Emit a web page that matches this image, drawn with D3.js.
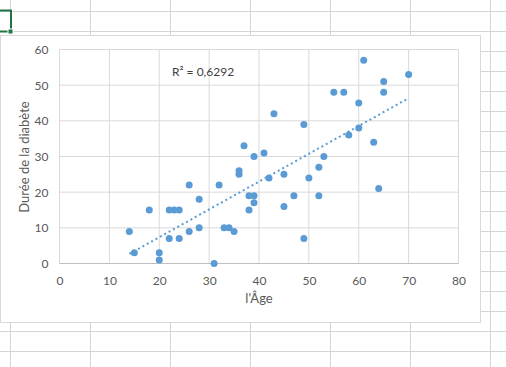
<!DOCTYPE html>
<html><head><meta charset="utf-8">
<script src="https://cdn.jsdelivr.net/npm/d3@7"></script>
<style>
html,body{margin:0;padding:0;background:#fff;}
svg{display:block;}
text{font-family:Lato,"Open Sans",sans-serif;}
</style></head><body>
<svg id="c" width="506" height="367"></svg>
<script>
const ages = [14,15,18,20,20,22,23,24,22,24,26,26,28,28,31,32,33,34,35,36,36,37,38,38,39,39,39,41,42,43,45,45,47,49,49,50,52,52,53,55,57,58,60,60,61,63,64,65,65,70];
const durations = [9,3,15,3,1,15,15,15,7,7,22,9,18,10,0,22,10,10,9,26,25,33,19,15,30,19,17,31,24,42,25,16,19,39,7,24,27,19,30,48,48,36,45,38,57,34,21,51,48,53];
const xTicks = [0,10,20,30,40,50,60,70,80];
const yTicks = [0,10,20,30,40,50,60];
const xTitle = "l'Âge";
const yTitle = "Durée de la diabète";
const r2Label = "R² = 0,6292";

const svg = d3.select("#c");

// spreadsheet background grid
const bg = svg.append("g");
for (let x = 10.5; x < 506; x += 80) bg.append("line").attr("x1",x).attr("x2",x).attr("y1",0).attr("y2",367).attr("stroke","#d4d4d4");
for (let y = 11.5; y < 367; y += 20) bg.append("line").attr("x1",0).attr("x2",506).attr("y1",y).attr("y2",y).attr("stroke","#d4d4d4");
// selected cell
bg.append("path").attr("d","M0,10.5H11V31.5H0").attr("fill","none").attr("stroke","#217346").attr("stroke-width",2);
bg.append("rect").attr("x",8).attr("y",29).attr("width",5).attr("height",5).attr("fill","#217346").attr("stroke","#fff").attr("stroke-width",1);

// chart area
svg.append("rect").attr("x",0.5).attr("y",35.5).attr("width",480).attr("height",287).attr("fill","#fff").attr("stroke","#d9d9d9");

const x = d3.scaleLinear().domain([0,80]).range([59.5,458.5]);
const y = d3.scaleLinear().domain([0,60]).range([263.5,49.5]);

const g = svg.append("g");
// gridlines
g.selectAll(".hg").data(yTicks).join("line").attr("x1",x(0)).attr("x2",x(80)).attr("y1",d=>y(d)).attr("y2",d=>y(d)).attr("stroke","#d9d9d9");
g.selectAll(".vg").data(xTicks).join("line").attr("y1",y(0)).attr("y2",y(60)).attr("x1",d=>x(d)).attr("x2",d=>x(d)).attr("stroke","#d9d9d9");
g.append("line").attr("x1",x(0)).attr("x2",x(80)).attr("y1",y(0)).attr("y2",y(0)).attr("stroke","#bfbfbf");

// axes labels
const xa = svg.append("g").attr("transform",`translate(0,${y(0)})`).call(d3.axisBottom(x).tickValues(xTicks).tickSize(0).tickPadding(13));
xa.select(".domain").remove();
xa.selectAll("text").attr("fill","#595959").attr("font-size",12).style("font-family","Lato");
const ya = svg.append("g").attr("transform",`translate(${x(0)},0)`).call(d3.axisLeft(y).tickValues(yTicks).tickSize(0).tickPadding(11));
ya.select(".domain").remove();
ya.selectAll("text").attr("fill","#595959").attr("font-size",12).style("font-family","Lato");

svg.append("text").attr("x",259).attr("y",303).attr("text-anchor","middle").attr("fill","#595959").attr("font-size",13).text(xTitle);
svg.append("text").attr("transform","translate(29,157) rotate(-90)").attr("text-anchor","middle").attr("fill","#595959").attr("font-size",13).text(yTitle);

// trendline (least squares)
const n = ages.length;
const mx = d3.mean(ages), my = d3.mean(durations);
let sxy=0, sxx=0;
for (let i=0;i<n;i++){ sxy += (ages[i]-mx)*(durations[i]-my); sxx += (ages[i]-mx)**2; }
const slope = sxy/sxx, icpt = my - slope*mx;
const x0 = d3.min(ages), x1 = d3.max(ages);
svg.append("line").attr("x1",x(x0)).attr("y1",y(icpt+slope*x0)).attr("x2",x(x1)).attr("y2",y(icpt+slope*x1))
  .attr("stroke","#5b9bd5").attr("stroke-width",2).attr("stroke-dasharray","2,3");

// points
svg.append("g").selectAll("circle").data(ages.map((a,i)=>[a,durations[i]])).join("circle")
  .attr("cx",d=>x(d[0])).attr("cy",d=>y(d[1])).attr("r",3.5).attr("fill","#5b9bd5");

svg.append("text").attr("x",172).attr("y",76).attr("fill","#404040").attr("font-size",12).text(r2Label);
</script>
</body></html>
